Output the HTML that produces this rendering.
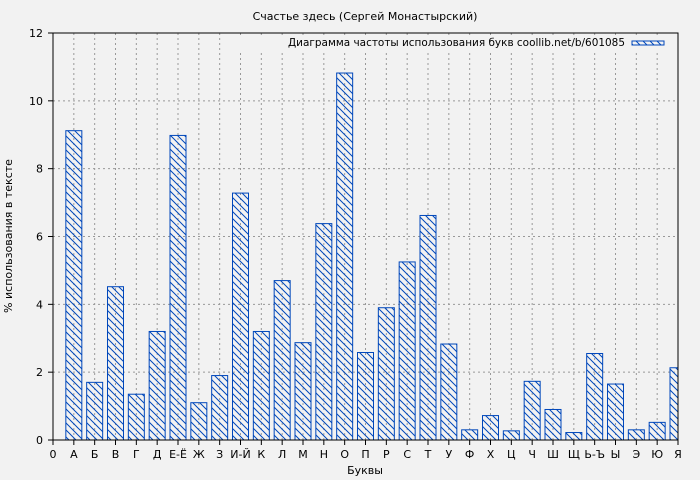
<!DOCTYPE html><html><head><meta charset="utf-8"><style>body{margin:0;background:#f2f2f2}svg{display:block}text{font-family:"DejaVu Sans","Liberation Sans",sans-serif;font-size:11px;fill:#000}</style></head><body>
<svg width="700" height="480" xmlns="http://www.w3.org/2000/svg">
<defs><pattern id="h" patternUnits="userSpaceOnUse" width="7" height="7"><path d="M-1,-1 L8,8 M-1,6 L1,8 M6,-1 L8,1" stroke="#0047bb" stroke-width="1"/></pattern></defs>
<rect width="700" height="480" fill="#f2f2f2"/>
<g id="grid" stroke="#999" stroke-dasharray="2,3" stroke-width="1"></g>
<g id="bars"></g>
<rect x="240" y="35" width="436" height="16" fill="#f2f2f2"/>
<text x="288" y="46" textLength="337" lengthAdjust="spacingAndGlyphs">Диаграмма частоты использования букв coollib.net/b/601085</text>
<rect x="632" y="41" width="32" height="4" fill="url(#h)" stroke="#0047bb"/>
<path d="M53,33 H678 V440 H53 Z" fill="none" stroke="#000"/>
<g id="ticks"></g>
<text x="365" y="20" text-anchor="middle">Счастье здесь (Сергей Монастырский)</text>
<text x="365" y="474" text-anchor="middle">Буквы</text>
<text transform="translate(12,236) rotate(-90)" text-anchor="middle">% использования в тексте</text>
</svg>
<script>
const ns="http://www.w3.org/2000/svg";
const L=["0","А","Б","В","Г","Д","Е-Ё","Ж","З","И-Й","К","Л","М","Н","О","П","Р","С","Т","У","Ф","Х","Ц","Ч","Ш","Щ","Ь-Ъ","Ы","Э","Ю","Я"];
const V=[0,9.12,1.7,4.52,1.35,3.2,8.98,1.1,1.9,7.28,3.2,4.7,2.87,6.38,10.82,2.58,3.9,5.25,6.62,2.83,0.3,0.72,0.27,1.73,0.9,0.22,2.55,1.65,0.3,0.52,2.13];
const X=i=>53+i*625/30, Y=v=>440-v*407/12;
const g=document.getElementById("grid"),b=document.getElementById("bars"),t=document.getElementById("ticks");
function el(p,n,a,txt){const e=document.createElementNS(ns,n);for(const k in a)e.setAttribute(k,a[k]);if(txt!==undefined)e.textContent=txt;p.appendChild(e);return e;}
for(let i=1;i<30;i++)el(g,"line",{x1:X(i),x2:X(i),y1:33,y2:440});
for(let v=2;v<12;v+=2)el(g,"line",{x1:53,x2:678,y1:Y(v),y2:Y(v)});
for(let i=1;i<=30;i++){let x0=X(i)-8,x1=Math.min(X(i)+8,678);el(b,"rect",{x:x0,y:Y(V[i]),width:x1-x0,height:440-Y(V[i]),fill:"url(#h)",stroke:"#0047bb"});}
for(let i=0;i<=30;i++){el(t,"line",{x1:X(i),x2:X(i),y1:440,y2:445,stroke:"#000"});el(t,"text",{x:X(i),y:458,"text-anchor":"middle"},L[i]);}
for(let v=0;v<=12;v+=2){el(t,"line",{x1:48,x2:53,y1:Y(v),y2:Y(v),stroke:"#000"});el(t,"text",{x:43,y:Y(v)+4,"text-anchor":"end"},v);}
</script>
</body></html>
